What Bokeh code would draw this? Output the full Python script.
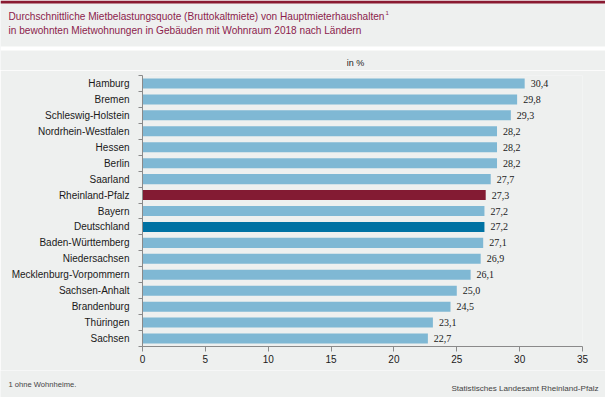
from bokeh.plotting import figure
from bokeh.layouts import column
from bokeh.models import Range1d, FixedTicker, Label, BoxAnnotation, ColumnDataSource
from bokeh.embed import file_html
from bokeh.resources import INLINE

lands = ["Hamburg", "Bremen", "Schleswig-Holstein", "Nordrhein-Westfalen", "Hessen",
         "Berlin", "Saarland", "Rheinland-Pfalz", "Bayern", "Deutschland",
         "Baden-Württemberg", "Niedersachsen", "Mecklenburg-Vorpommern",
         "Sachsen-Anhalt", "Brandenburg", "Thüringen", "Sachsen"]
values = [30.4, 29.8, 29.3, 28.2, 28.2, 28.2, 27.7, 27.3, 27.2, 27.2,
          27.1, 26.9, 26.1, 25.0, 24.5, 23.1, 22.7]
x_ticks = [0, 5, 10, 15, 20, 25, 30, 35]

W = 605
H_HEAD, H_MAIN, H_FOOT = 70, 300, 27
BG = "#eef0ef"
BAR = "#7fb8d4"
RP = "#831b33"
DE = "#0072a3"
TITLE_C = "#8c1c4c"
FONT = "Liberation Sans"


def panel(h):
    f = figure(width=W, height=h, output_backend="svg", toolbar_location=None,
               x_range=Range1d(0, W), y_range=Range1d(h, 0),
               x_axis_type=None, y_axis_type=None, min_border=0, frame_align=False,
               background_fill_color=BG, border_fill_color=BG, outline_line_color=None)
    f.xgrid.visible = False
    f.ygrid.visible = False
    return f


def lab(f, x, y, t, size, color, align="left"):
    f.add_layout(Label(x=x, y=y, text=t, text_font=FONT, text_font_size=size,
                       text_color=color, text_align=align, text_baseline="middle"))


# header
head = panel(H_HEAD)
head.add_layout(BoxAnnotation(left=0, right=W, top=0, bottom=3, fill_color="#8a1a31",
                              fill_alpha=1, line_color=None))
head.add_layout(BoxAnnotation(left=0, right=W, top=46, bottom=50, fill_color="white",
                              fill_alpha=1, line_color=None))
lab(head, 8, 16, "Durchschnittliche Mietbelastungsquote (Bruttokaltmiete) von Hauptmieterhaushalten", "10.1px", TITLE_C)
lab(head, 385, 12, "1", "6px", TITLE_C)
lab(head, 8, 30, "in bewohnten Mietwohnungen in Gebäuden mit Wohnraum 2018 nach Ländern", "10.1px", TITLE_C)
lab(head, 355, 62, "in %", "9px", "#1a1a1a", "center")

# main chart
pos = list(range(len(lands)))
colors = [RP if l == "Rheinland-Pfalz" else DE if l == "Deutschland" else BAR for l in lands]
labels = [f"{v:.1f}".replace(".", ",") for v in values]
src = ColumnDataSource(dict(pos=pos, val=values, color=colors, lab=labels))

p = figure(width=W, height=H_MAIN, output_backend="svg", toolbar_location=None,
           x_range=Range1d(0, 35), y_range=Range1d(len(lands) - 0.5, -0.5),
           min_border_left=142, min_border_right=23, min_border_top=5, min_border_bottom=24,
           frame_align=False,
           background_fill_color=BG, border_fill_color=BG, outline_line_color=None)
p.xgrid.visible = False
p.ygrid.visible = False

p.hbar(y="pos", right="val", left=0, height=0.63, color="color", line_color=None, source=src)
p.text(x="val", y="pos", text="lab", source=src, x_offset=6, text_baseline="middle",
       text_align="left", text_font_size="10px", text_color="#1a1a1a", text_font=FONT)

ax = p.xaxis[0]
ax.ticker = FixedTicker(ticks=x_ticks)
ax.major_tick_out = 5
ax.major_tick_in = 0
ax.minor_tick_out = 0
ax.minor_tick_in = 0
ax.axis_line_color = "#8a8a8a"
ax.major_tick_line_color = "#8a8a8a"
ax.major_label_text_font = FONT
ax.major_label_text_font_size = "10px"
ax.major_label_text_color = "#1a1a1a"
ax.major_label_standoff = 3

ay = p.yaxis[0]
ay.ticker = FixedTicker(ticks=pos, minor_ticks=[i - 0.5 for i in range(len(lands) + 1)])
ay.major_label_overrides = {i: l for i, l in zip(pos, lands)}
ay.major_tick_out = 0
ay.major_tick_in = 0
ay.minor_tick_out = 4
ay.minor_tick_in = 0
ay.axis_line_color = "#8a8a8a"
ay.minor_tick_line_color = "#8a8a8a"
ay.major_label_text_font = FONT
ay.major_label_text_font_size = "10px"
ay.major_label_text_color = "#1a1a1a"
ay.major_label_standoff = 9

# footer
foot = panel(H_FOOT)
lab(foot, 8, 14, "1 ohne Wohnheime.", "7.6px", "#444444")
lab(foot, 598, 18, "Statistisches Landesamt Rheinland-Pfalz", "8.1px", "#444444", "right")

layout = column(head, p, foot, spacing=0)

template = """{% block preamble %}<style>html, body { margin: 0 !important; padding: 0 !important; background: #ffffff; }</style>{% endblock %}"""
open("out.html", "w").write(file_html(layout, INLINE, "chart", template=template))
